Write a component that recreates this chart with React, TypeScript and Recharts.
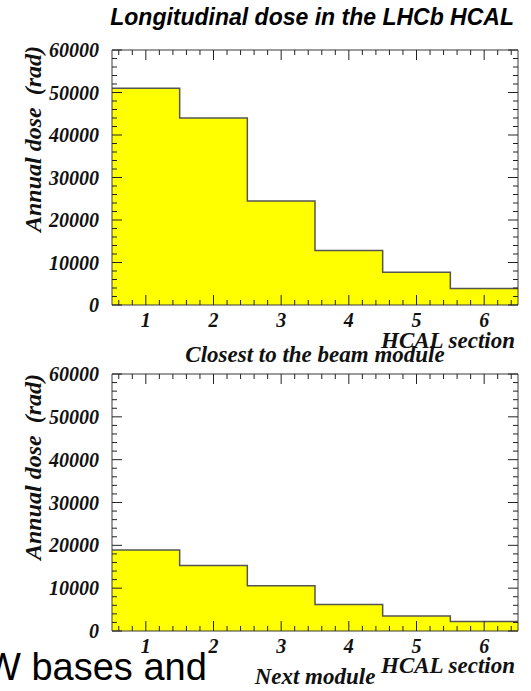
import { Area, ComposedChart, XAxis, YAxis } from "recharts";

const sections = [1, 2, 3, 4, 5, 6];
const closestDose = [51000, 44000, 24500, 12800, 7700, 3900];
const nextDose = [18900, 15300, 10550, 6200, 3500, 2200];

const xMajor = [1, 2, 3, 4, 5, 6];
const yMajor = [0, 10000, 20000, 30000, 40000, 50000, 60000];
const xTicks = Array.from({ length: 30 }, (_, i) => Math.round((0.6 + i * 0.2) * 10) / 10);
const yTicks = Array.from({ length: 31 }, (_, i) => i * 2000);

const FRAME = "#3a3a3a";
const SERIF = "'Liberation Serif', 'Times New Roman', serif";
const SANS = "'Liberation Sans', Arial, sans-serif";

// histogram outline as step points on the bin edges
function toSteps(values: number[]) {
  const rows = sections.map((s, i) => ({ edge: s - 0.5, dose: values[i] }));
  rows.push({ edge: sections[sections.length - 1] + 0.5, dose: values[values.length - 1] });
  return rows;
}

const isMajorX = (v: number) => xMajor.some((m) => Math.abs(m - v) < 1e-6);
const isMajorY = (v: number) => yMajor.includes(v);

function xTick(p: any, side: "bottom" | "top") {
  const { x, y, payload } = p;
  const major = isMajorX(payload.value);
  const len = major ? 10 : 5;
  const dir = side === "bottom" ? -1 : 1;
  return (
    <g>
      <line x1={x} y1={y} x2={x} y2={y + dir * len} stroke="#222" strokeWidth={1} />
      {side === "bottom" && major && (
        <text x={x} y={y + 22} textAnchor="middle" fontFamily={SERIF} fontWeight="bold" fontStyle="italic" fontSize={20} fill="#111">
          {payload.value}
        </text>
      )}
    </g>
  );
}

function yTick(p: any, side: "left" | "right") {
  const { x, y, payload } = p;
  const major = isMajorY(payload.value);
  const len = major ? 10 : 5;
  const dir = side === "left" ? 1 : -1;
  return (
    <g>
      <line x1={x} y1={y} x2={x + dir * len} y2={y} stroke="#222" strokeWidth={1} />
      {side === "left" && major && (
        <text x={x - 13} y={y + 7} textAnchor="end" fontFamily={SERIF} fontWeight="bold" fontStyle="italic" fontSize={20} fill="#111">
          {payload.value}
        </text>
      )}
    </g>
  );
}

function Panel({ values, top, height, marginTop, marginBottom }: { values: number[]; top: number; height: number; marginTop: number; marginBottom: number }) {
  const data = toSteps(values);
  return (
    <div style={{ position: "absolute", left: 0, top, width: 531, height }}>
      <ComposedChart width={531} height={height} data={data} margin={{ top: marginTop - 1, right: 12, bottom: marginBottom - 30, left: 52 }}>
        <Area
          xAxisId="b"
          yAxisId="l"
          type="stepAfter"
          dataKey="dose"
          stroke="#555"
          strokeWidth={1.5}
          fill="#ffff00"
          fillOpacity={1}
          dot={false}
          activeDot={false}
          isAnimationActive={false}
        />
        <XAxis xAxisId="b" dataKey="edge" type="number" domain={[0.5, 6.5]} ticks={xTicks} interval={0} orientation="bottom" height={30} tickSize={0} tickMargin={0} tickLine={false} axisLine={{ stroke: FRAME }} tick={(p: any) => xTick(p, "bottom")} allowDataOverflow />
        <XAxis xAxisId="t" dataKey="edge" type="number" domain={[0.5, 6.5]} ticks={xTicks} interval={0} orientation="top" height={1} tickSize={0} tickMargin={0} tickLine={false} axisLine={{ stroke: FRAME }} tick={(p: any) => xTick(p, "top")} allowDataOverflow />
        <YAxis yAxisId="l" type="number" domain={[0, 60000]} ticks={yTicks} interval={0} width={60} tickSize={0} tickMargin={0} tickLine={false} axisLine={{ stroke: FRAME }} tick={(p: any) => yTick(p, "left")} allowDataOverflow />
        <YAxis yAxisId="r" orientation="right" type="number" domain={[0, 60000]} ticks={yTicks} interval={0} width={1} tickSize={0} tickMargin={0} tickLine={false} axisLine={{ stroke: FRAME }} tick={(p: any) => yTick(p, "right")} allowDataOverflow />
      </ComposedChart>
    </div>
  );
}

const serifLabel = { fontFamily: SERIF, fontWeight: "bold", fontStyle: "italic", fontSize: 23, fill: "#111" } as const;

export default function App() {
  return (
    <div style={{ position: "absolute", left: 0, top: 0, width: 531, height: 691, overflow: "hidden", background: "#fff" }}>
      <Panel values={closestDose} top={0} height={340} marginTop={50} marginBottom={35} />
      <Panel values={nextDose} top={340} height={351} marginTop={34} marginBottom={60} />
      <svg width={531} height={691} style={{ position: "absolute", left: 0, top: 0, pointerEvents: "none" }}>
        <text x={514} y={25} textAnchor="end" fontFamily={SANS} fontWeight="bold" fontStyle="italic" fontSize={23} fill="#000">
          Longitudinal dose in the LHCb HCAL
        </text>
        <text transform="translate(41,139) rotate(-90)" textAnchor="middle" {...serifLabel} fontSize={24} xmlSpace="preserve">
          Annual dose  (rad)
        </text>
        <text x={515} y={348} textAnchor="end" {...serifLabel}>HCAL section</text>
        <text x={315} y={362} textAnchor="middle" {...serifLabel}>Closest to the beam module</text>
        <text transform="translate(41,467) rotate(-90)" textAnchor="middle" {...serifLabel} fontSize={24} xmlSpace="preserve">
          Annual dose  (rad)
        </text>
        <text x={515} y={673} textAnchor="end" {...serifLabel}>HCAL section</text>
        <text x={315} y={684} textAnchor="middle" {...serifLabel}>Next module</text>
        <text x={-15} y={680} fontFamily={SANS} fontSize={38} fill="#000">W bases and</text>
      </svg>
    </div>
  );
}
